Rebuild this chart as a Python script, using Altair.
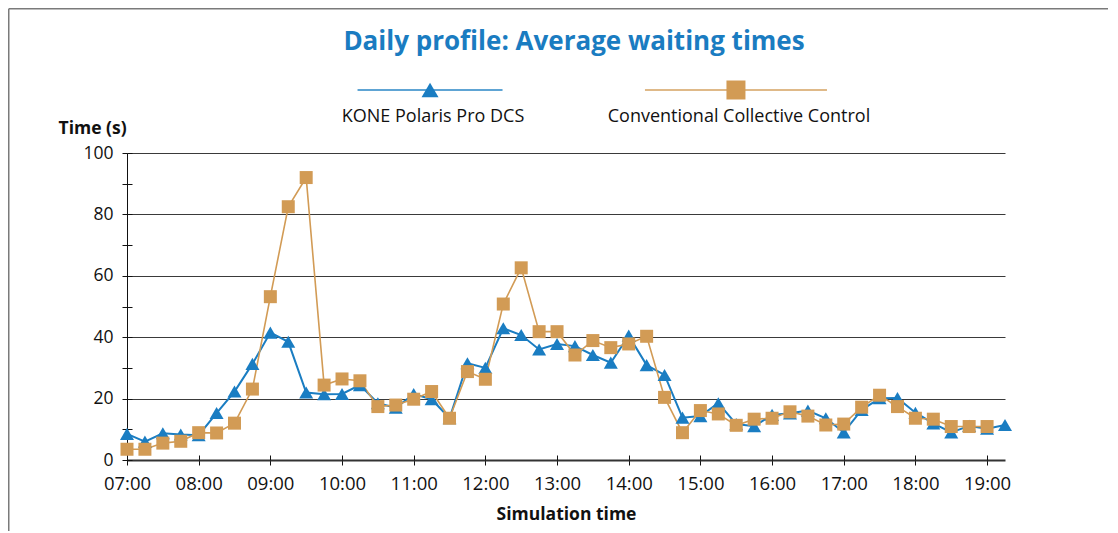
import altair as alt
import pandas as pd

TIMES = ["07:00", "07:15", "07:30", "07:45", "08:00", "08:15", "08:30", "08:45",
         "09:00", "09:15", "09:30", "09:45", "10:00", "10:15", "10:30", "10:45",
         "11:00", "11:15", "11:30", "11:45", "12:00", "12:15", "12:30", "12:45",
         "13:00", "13:15", "13:30", "13:45", "14:00", "14:15", "14:30", "14:45",
         "15:00", "15:15", "15:30", "15:45", "16:00", "16:15", "16:30", "16:45",
         "17:00", "17:15", "17:30", "17:45", "18:00", "18:15", "18:30", "18:45",
         "19:00", "19:15"]

KONE = [8.5, 6.0, 8.7, 8.3, 8.1, 15.3, 22.3, 31.3,
        41.5, 38.5, 22.0, 21.4, 21.5, 24.4, 18.5, 17.0,
        21.5, 19.8, 13.6, 31.5, 30.0, 42.9, 40.7, 36.0,
        37.8, 37.1, 34.2, 31.7, 40.5, 30.9, 27.7, 13.8,
        14.3, 18.5, 11.7, 11.0, 14.7, 15.2, 16.1, 13.6,
        9.0, 16.3, 20.1, 20.2, 15.4, 11.9, 9.0, 11.1,
        10.2, 11.4]

CONV = [3.5, 3.5, 5.5, 6.1, 8.9, 8.8, 12.0, 23.1,
        53.2, 82.5, 92.0, 24.4, 26.4, 25.8, 17.4, 17.9,
        19.8, 22.3, 13.6, 28.8, 26.3, 50.8, 62.6, 41.8,
        41.8, 34.2, 38.9, 36.6, 37.8, 40.3, 20.4, 8.9,
        16.1, 15.0, 11.3, 13.3, 13.6, 15.7, 14.3, 11.4,
        11.7, 17.2, 21.1, 17.4, 13.6, 13.3, 10.9, 10.9,
        10.9]

SERIES = ["KONE Polaris Pro DCS", "Conventional Collective Control"]
COLORS = ["#1a7dc2", "#d29b55"]
SHAPES = ["triangle-up", "square"]
HOUR_TICKS = ["07:00", "08:00", "09:00", "10:00", "11:00", "12:00", "13:00",
              "14:00", "15:00", "16:00", "17:00", "18:00", "19:00"]
Y_TICKS = [0, 10, 20, 30, 40, 50, 60, 70, 80, 90, 100]

FONT = "Open Sans"
BLUE_TITLE = "#1a7cc1"

rows = []
for name, vals in zip(SERIES, [KONE, CONV]):
    for t, v in zip(TIMES, vals):
        rows.append({"time": "2000-01-01T" + t + ":00", "series": name, "value": v})
df = pd.DataFrame(rows)


def dt(s):
    return alt.DateTime(year=2000, month=1, date=1, hours=int(s[:2]), minutes=int(s[3:]))


tick_values = [dt(s) for s in HOUR_TICKS]
x_domain = [dt(TIMES[0]), dt(TIMES[-1])]
is_kone = "datum.series === '" + SERIES[0] + "'"

color = alt.Color("series:N", scale=alt.Scale(domain=SERIES, range=COLORS), legend=None)
shape = alt.Shape("series:N", scale=alt.Scale(domain=SERIES, range=SHAPES), legend=None)

main_x_axis = alt.Axis(
    values=tick_values, format="%H:%M", labelFont=FONT, labelFontSize=18.5,
    labelColor="#111", labelPadding=9, labelFlush=False, labelOverlap=False,
    tickSize=5, tickColor="#111", tickWidth=1, domainColor="#333", domainWidth=2,
    grid=False, title="Simulation time", titleFont=FONT, titleFontSize=17.5,
    titleFontWeight="bold", titleColor="#111", titlePadding=13, orient="bottom")

main_y_axis = alt.Axis(
    values=Y_TICKS, labelExpr="datum.value % 20 === 0 ? datum.label : ''",
    labelFont=FONT, labelFontSize=17.5, labelColor="#111", labelPadding=9,
    tickSize=5, tickColor="#111", tickWidth=1, domainColor="#111", domainWidth=1,
    grid=True, gridColor="#3a3a3a", gridWidth=1,
    gridOpacity={"condition": {"test": "datum.value % 20 === 0 && datum.value > 0", "value": 1}, "value": 0},
    title="Time (s)", titleFont=FONT, titleFontSize=17.5, titleFontWeight="bold",
    titleColor="#111", titleAngle=0, titleAlign="left", titleBaseline="middle",
    titleX=-69, titleY=-25, orient="left")

inner_x_axis = alt.Axis(values=tick_values, offset=-5, tickSize=5, tickColor="#111",
                        labels=False, domain=False, grid=False, title=None, orient="bottom")
inner_y_axis = alt.Axis(values=Y_TICKS, offset=-5, tickSize=5, tickColor="#111",
                        labels=False, domain=False, grid=False, title=None, orient="left")

y_scale = alt.Scale(domain=[0, 100], nice=False)
x_scale = alt.Scale(domain=x_domain, nice=False)

lines = alt.Chart(df).mark_line().encode(
    x=alt.X("time:T", scale=x_scale, axis=main_x_axis),
    y=alt.Y("value:Q", scale=y_scale, axis=main_y_axis),
    color=color,
    strokeWidth=alt.condition(is_kone, alt.value(2), alt.value(1.6)),
)

points = alt.Chart(df).mark_point(filled=True, opacity=1, strokeWidth=0).encode(
    x=alt.X("time:T", scale=x_scale, axis=inner_x_axis),
    y=alt.Y("value:Q", scale=y_scale, axis=inner_y_axis),
    color=color,
    shape=shape,
    size=alt.condition(is_kone, alt.value(196), alt.value(169)),
)

# legend drawn from the series list through a point scale
leg_df = pd.DataFrame({"series": SERIES})
leg_x = alt.X("series:N", scale=alt.Scale(type="point", domain=SERIES, padding=0.935), axis=None)
LEG_Y = -63

leg_line = alt.Chart(leg_df).mark_tick(orient="horizontal", thickness=2, xOffset=17).encode(
    x=leg_x, y=alt.value(LEG_Y), color=color,
    size=alt.condition(is_kone, alt.value(145), alt.value(182)),
)
leg_pts = alt.Chart(leg_df).mark_point(filled=True, opacity=1, strokeWidth=0, xOffset=17).encode(
    x=leg_x, y=alt.value(LEG_Y), color=color, shape=shape,
    size=alt.condition(is_kone, alt.value(289), alt.value(361)),
)
leg_txt = alt.Chart(leg_df).mark_text(font=FONT, fontSize=18, color="#111", xOffset=20, dy=27,
                                      baseline="middle", align="center").encode(
    x=leg_x, y=alt.value(LEG_Y), text="series:N",
)

# decorative frame
frame_df = pd.DataFrame({"k": [0]})
frame_top = alt.Chart(frame_df).mark_rule(color="#7a7a7a", strokeWidth=1.5).encode(
    x=alt.value(-118.25), x2=alt.value(981), y=alt.value(-144.25))
frame_left = alt.Chart(frame_df).mark_rule(color="#7a7a7a", strokeWidth=1.5).encode(
    x=alt.value(-118.25), y=alt.value(-144.25), y2=alt.value(378))

chart = alt.layer(
    frame_top, frame_left, lines, points, leg_line, leg_pts, leg_txt
).resolve_scale(
    x="independent"
).resolve_axis(
    x="independent", y="independent"
).properties(
    width=878, height=307, background="white", padding=0,
    title=alt.TitleParams("Daily profile: Average waiting times", anchor="middle", frame="group",
                          font=FONT, fontSize=26, fontWeight="bold", color=BLUE_TITLE,
                          offset=-47, dx=8),
).configure_view(stroke=None)

chart.save("out.html", embed_options={"renderer": "svg", "actions": False})
